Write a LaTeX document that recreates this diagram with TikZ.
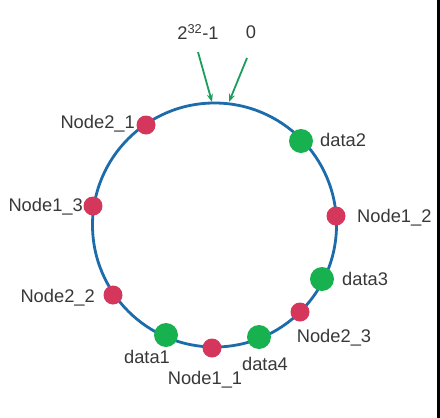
\documentclass[tikz,border=0pt]{standalone}
\usepackage{fontspec}
\setmainfont{Liberation Sans}
\usetikzlibrary{arrows.meta}
\definecolor{ringblue}{HTML}{1C6CAB}
\definecolor{nodered}{HTML}{D5365B}
\definecolor{datagreen}{HTML}{17B14F}
\definecolor{arrowgreen}{HTML}{1B9E5C}
\definecolor{txt}{HTML}{383838}
\tikzset{
  hnode/.style={circle, fill=nodered, minimum size=19pt, inner sep=0pt},
  dnode/.style={circle, fill=datagreen, minimum size=24pt, inner sep=0pt},
  lbl/.style={text=txt, font=\fontsize{18.3}{21}\selectfont, inner sep=0pt},
  ptr/.style={arrowgreen, line width=1.8pt, -{Stealth[length=8pt,width=6pt]}}
}
\begin{document}
\begin{tikzpicture}[x=1pt,y=-1pt]
\useasboundingbox (0,0) rectangle (440,418);
\fill[white] (0,0) rectangle (440,418);
\draw[black, line width=3pt] (438.5,0) -- (438.5,418);
\coordinate (c) at (214.5,225);
\draw[ringblue, line width=2.8pt] (c) circle (122pt);
% labels on top
\node[lbl] (top1) at (198,32) {2\textsuperscript{32}-1};
\node[lbl] (top0) at (251,32) {0};
\coordinate (s1) at (198,52);
\coordinate (e1) at (212,102);
\coordinate (s0) at (247,58);
\coordinate (e0) at (229,102);
\draw[ptr] (s1) -- (e1);
\draw[ptr] (s0) -- (e0);
% points
\node[hnode] (n21) at (146,125) {};
\node[dnode] (d2) at (301,141) {};
\node[hnode] (n13) at (93,206) {};
\node[hnode] (n12) at (336,216) {};
\node[dnode] (d3) at (322,279) {};
\node[hnode] (n22) at (113,295) {};
\node[hnode] (n23) at (300,312) {};
\node[dnode] (d1) at (166,335) {};
\node[hnode] (n11) at (212,348) {};
\node[dnode] (d4) at (259,337) {};
% labels
\node[lbl, anchor=east] at (135,124) {Node2\_1};
\node[lbl, anchor=west] at (320,140) {data2};
\node[lbl, anchor=east] at (83,207) {Node1\_3};
\node[lbl, anchor=west] at (357,218) {Node1\_2};
\node[lbl, anchor=west] at (342,279) {data3};
\node[lbl, anchor=east] at (95,298) {Node2\_2};
\node[lbl] at (334,338) {Node2\_3};
\node[lbl] at (147,357) {data1};
\node[lbl] at (265,364) {data4};
\node[lbl] at (205,380) {Node1\_1};
\end{tikzpicture}
\end{document}
